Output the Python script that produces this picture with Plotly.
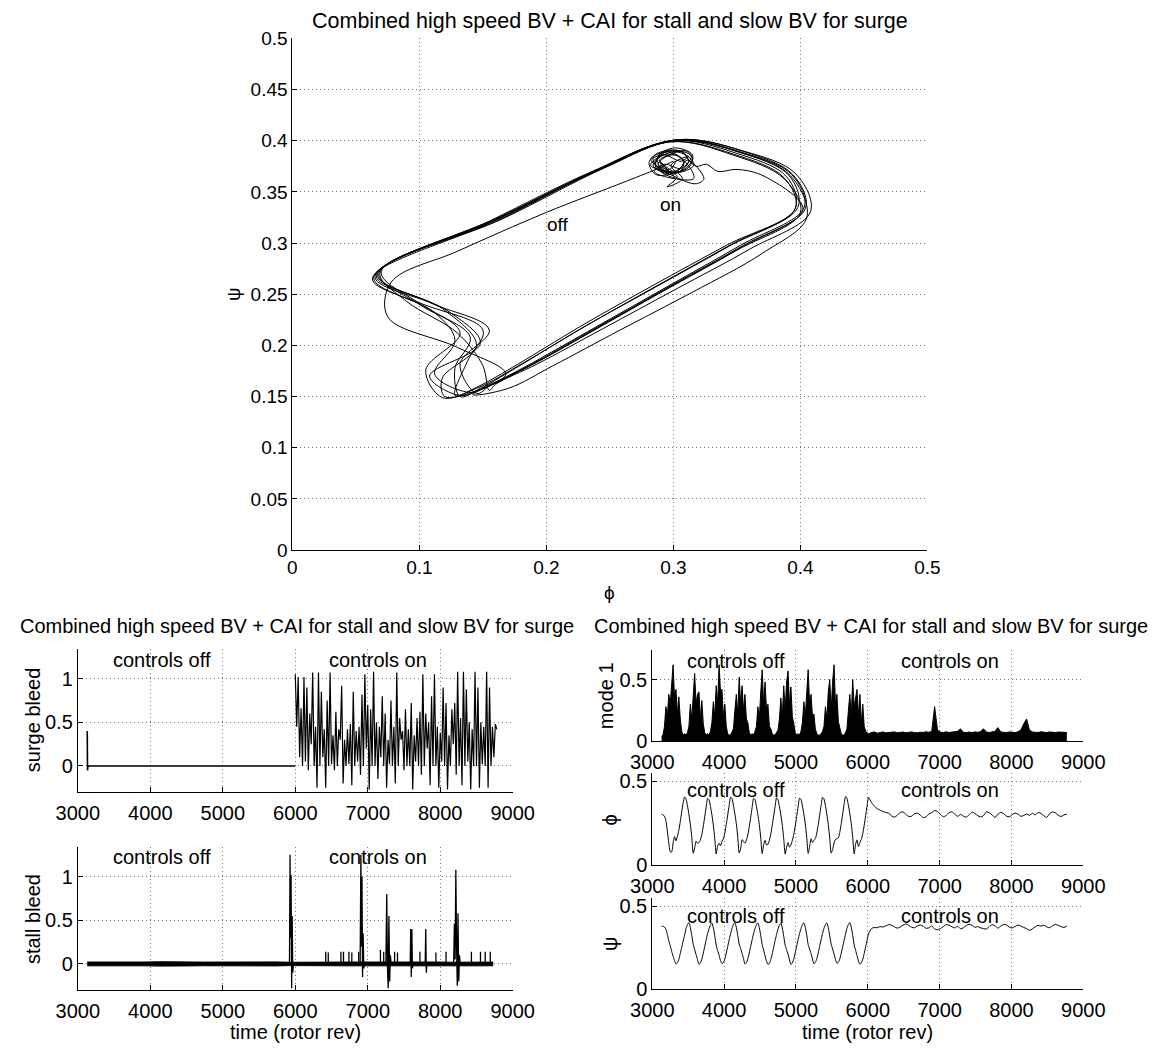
import numpy as np
import plotly.graph_objects as go

# ---------------- data ----------------
# time base (rotor revolutions): 20-rev samples while surging, 40-rev once controls are on
t_off = np.arange(3130, 6011, 20)
t_on = np.arange(6050, 8771, 40)
time = np.concatenate([t_off, t_on])

# flow coefficient phi
phi_start = [0.300, 0.298, 0.290, 0.262, 0.200, 0.130, 0.078, 0.075, 0.130, 0.168]
phi_c1 = [0.142, 0.170, 0.205, 0.258, 0.315, 0.370, 0.405, 0.392, 0.352, 0.302, 0.242, 0.165, 0.068, 0.100, 0.140, 0.128]
phi_c2 = [0.132, 0.148, 0.180, 0.228, 0.286, 0.344, 0.396, 0.387, 0.347, 0.298, 0.236, 0.156, 0.064, 0.112, 0.128, 0.112]
phi_c3 = [0.140, 0.154, 0.190, 0.240, 0.296, 0.354, 0.404, 0.394, 0.354, 0.303, 0.245, 0.166, 0.070, 0.095, 0.150, 0.138]
phi_c4 = [0.128, 0.145, 0.178, 0.226, 0.283, 0.342, 0.396, 0.389, 0.349, 0.299, 0.239, 0.160, 0.066, 0.118, 0.145, 0.118]
phi_c5 = [0.120, 0.146, 0.184, 0.235, 0.292, 0.350, 0.400, 0.387, 0.347, 0.297, 0.236, 0.154, 0.063, 0.104, 0.132, 0.105]
phi_c6 = [0.118, 0.145, 0.182, 0.231, 0.288, 0.346, 0.398, 0.391, 0.351, 0.301, 0.243, 0.164, 0.067, 0.108, 0.155, 0.132]
phi_c7 = [0.145, 0.156, 0.189, 0.239, 0.296, 0.353, 0.403, 0.393, 0.353, 0.302, 0.240, 0.160, 0.069, 0.090, 0.130, 0.150]
phi_c8 = [0.155, 0.160, 0.193, 0.244, 0.302, 0.360, 0.408, 0.396, 0.355, 0.304, 0.244, 0.164, 0.065, 0.122, 0.148, 0.108]
phi_c9 = [0.132, 0.150, 0.186, 0.236, 0.294, 0.352, 0.402]
phi_ctrl = [0.372, 0.350, 0.335, 0.326, 0.318, 0.312,
            0.307, 0.292, 0.284, 0.295, 0.312, 0.315, 0.301, 0.288, 0.290, 0.305,
            0.308, 0.297, 0.281, 0.286, 0.303, 0.311, 0.324, 0.318, 0.301, 0.286,
            0.294, 0.310, 0.316, 0.302, 0.289, 0.301, 0.290, 0.284, 0.298, 0.314,
            0.306, 0.293, 0.285, 0.293, 0.316, 0.311, 0.297, 0.282, 0.301, 0.312,
            0.305, 0.290, 0.286, 0.299, 0.308, 0.302, 0.289, 0.294, 0.303, 0.295,
            0.307, 0.298, 0.312, 0.306, 0.292, 0.282, 0.305, 0.315, 0.310, 0.295,
            0.288, 0.297, 0.302]

# pressure rise coefficient psi
psi_start = [0.380, 0.379, 0.374, 0.360, 0.330, 0.292, 0.262, 0.228, 0.198, 0.172]
psi_c1 = [0.152, 0.158, 0.180, 0.215, 0.252, 0.290, 0.325, 0.366, 0.389, 0.401, 0.372, 0.325, 0.270, 0.240, 0.208, 0.178]
psi_c2 = [0.150, 0.158, 0.181, 0.217, 0.257, 0.297, 0.334, 0.364, 0.387, 0.399, 0.370, 0.322, 0.266, 0.232, 0.205, 0.172]
psi_c3 = [0.154, 0.161, 0.182, 0.217, 0.257, 0.297, 0.334, 0.367, 0.390, 0.401, 0.373, 0.324, 0.272, 0.245, 0.215, 0.185]
psi_c4 = [0.151, 0.159, 0.182, 0.218, 0.258, 0.298, 0.334, 0.365, 0.388, 0.400, 0.371, 0.323, 0.268, 0.236, 0.200, 0.168]
psi_c5 = [0.150, 0.156, 0.178, 0.213, 0.253, 0.293, 0.330, 0.363, 0.386, 0.399, 0.369, 0.319, 0.265, 0.238, 0.212, 0.176]
psi_c6 = [0.149, 0.158, 0.183, 0.219, 0.259, 0.299, 0.335, 0.366, 0.389, 0.400, 0.373, 0.326, 0.269, 0.242, 0.215, 0.182]
psi_c7 = [0.153, 0.161, 0.183, 0.218, 0.258, 0.298, 0.335, 0.367, 0.389, 0.400, 0.371, 0.321, 0.271, 0.243, 0.212, 0.180]
psi_c8 = [0.156, 0.162, 0.182, 0.216, 0.255, 0.294, 0.331, 0.368, 0.390, 0.401, 0.373, 0.325, 0.267, 0.234, 0.202, 0.170]
psi_c9 = [0.151, 0.158, 0.180, 0.215, 0.255, 0.295, 0.333]
psi_ctrl = [0.365, 0.372, 0.370, 0.377, 0.375, 0.381,
            0.389, 0.386, 0.376, 0.368, 0.374, 0.386, 0.393, 0.385, 0.373, 0.370,
            0.381, 0.387, 0.380, 0.367, 0.370, 0.381, 0.363, 0.358, 0.365, 0.377,
            0.389, 0.386, 0.376, 0.369, 0.380, 0.364, 0.370, 0.384, 0.391, 0.385,
            0.373, 0.377, 0.370, 0.365, 0.363, 0.377, 0.389, 0.382, 0.368, 0.380,
            0.390, 0.387, 0.374, 0.369, 0.378, 0.386, 0.381, 0.372, 0.365, 0.355,
            0.363, 0.376, 0.385, 0.380, 0.386, 0.376, 0.370, 0.382, 0.390, 0.385,
            0.377, 0.372, 0.380]

# first circumferential mode amplitude (upper envelope of the trace)
mode_start = [0.04, 0.05, 0.12, 0.28, 0.20, 0.38, 0.30, 0.45, 0.62, 0.35]
mode_c1 = [0.42, 0.22, 0.36, 0.18, 0.08, 0.05, 0.06, 0.05, 0.07, 0.12, 0.30, 0.18, 0.40, 0.55, 0.30, 0.38]
mode_c2 = [0.40, 0.18, 0.33, 0.14, 0.07, 0.05, 0.06, 0.05, 0.08, 0.15, 0.32, 0.20, 0.45, 0.30, 0.62, 0.40]
mode_c3 = [0.42, 0.20, 0.30, 0.12, 0.06, 0.05, 0.05, 0.07, 0.10, 0.25, 0.38, 0.22, 0.52, 0.30, 0.45, 0.25]
mode_c4 = [0.38, 0.18, 0.15, 0.07, 0.05, 0.06, 0.05, 0.08, 0.12, 0.28, 0.18, 0.40, 0.58, 0.30, 0.48, 0.25]
mode_c5 = [0.30, 0.12, 0.10, 0.06, 0.05, 0.05, 0.07, 0.09, 0.18, 0.35, 0.20, 0.45, 0.25, 0.48, 0.57, 0.30]
mode_c6 = [0.44, 0.20, 0.14, 0.07, 0.05, 0.06, 0.05, 0.08, 0.15, 0.32, 0.20, 0.42, 0.58, 0.30, 0.38, 0.20]
mode_c7 = [0.22, 0.10, 0.06, 0.05, 0.05, 0.06, 0.08, 0.12, 0.28, 0.18, 0.40, 0.50, 0.25, 0.48, 0.62, 0.30]
mode_c8 = [0.38, 0.16, 0.12, 0.06, 0.05, 0.05, 0.07, 0.10, 0.25, 0.38, 0.20, 0.50, 0.28, 0.35, 0.42, 0.20]
mode_c9 = [0.38, 0.15, 0.30, 0.12, 0.08, 0.07, 0.06]
mode_ctrl = [0.070, 0.075, 0.065, 0.070, 0.075, 0.068, 0.072, 0.070, 0.075, 0.068,
             0.070, 0.074, 0.069, 0.072, 0.075, 0.070, 0.068, 0.073, 0.070, 0.076,
             0.072, 0.080, 0.280, 0.090, 0.074, 0.070, 0.076, 0.070, 0.072, 0.075,
             0.080, 0.100, 0.072, 0.070, 0.074, 0.070, 0.075, 0.072, 0.078, 0.100,
             0.075, 0.070, 0.074, 0.080, 0.110, 0.075, 0.072, 0.070, 0.075, 0.072,
             0.070, 0.076, 0.090, 0.140, 0.180, 0.090, 0.075, 0.072, 0.070, 0.076,
             0.074, 0.070, 0.075, 0.072, 0.070, 0.074, 0.070, 0.072, 0.070]

# surge bleed valve command
surge_off_t = [3130, 3134, 3140, 6000]
surge_off_v = [0.40, -0.05, 0.00, 0.00]
surge_on_t = np.arange(6000, 8781, 20)
surge_on_v = [1.05, 0.45, 1.02, 0.10, 0.66, 0.00, 1.02, 0.05, 0.90, -0.05,
              0.60, 0.25, 1.07, 0.00, 0.45, -0.25, 1.07, 0.00, 0.85, 0.10,
              0.42, -0.25, 0.75, 0.00, 1.07, 0.02, 0.35, -0.05, 0.62, 0.00,
              0.42, 0.30, 0.92, -0.20, 0.30, 0.00, 0.42, 0.02, 0.48, -0.22,
              0.85, 0.00, 0.40, 0.05, 0.45, -0.10, 0.82, 0.00, 1.05, 0.20,
              0.70, -0.27, 0.65, 0.00, 1.08, 0.00, 0.50, -0.15, 0.45, 0.10,
              0.80, 0.00, 0.60, -0.25, 0.30, 0.02, 0.75, 0.00, 0.45, -0.20,
              1.07, 0.00, 0.55, 0.30, 0.40, -0.05, 0.65, 0.00, 0.42, 0.00,
              0.72, -0.27, 0.35, 0.05, 0.55, 0.00, 0.62, -0.10, 1.05, 0.00,
              0.60, 0.20, 0.50, -0.22, 0.80, 0.00, 1.05, 0.00, 0.45, -0.25,
              0.38, 0.05, 0.90, 0.00, 0.72, -0.27, 0.35, 0.00, 0.65, 0.25,
              0.72, -0.10, 1.08, 0.00, 0.55, -0.22, 1.08, 0.00, 0.88, 0.05,
              0.50, -0.27, 0.42, 0.00, 1.08, 0.00, 0.90, -0.25, 0.50, 0.02,
              0.45, 0.00, 1.08, -0.25, 0.90, 0.00, 0.45, 0.10, 0.48, 0.42]

# stall bleed valve command: small background chatter plus spike clusters
stall_noise_t = np.arange(3130, 8781, 200)
stall_noise_amp = [0.022, 0.020, 0.024, 0.019, 0.022, 0.025, 0.020, 0.023, 0.021, 0.022,
                   0.024, 0.020, 0.022, 0.023, 0.019, 0.022, 0.024, 0.021, 0.022, 0.023,
                   0.020, 0.022, 0.024, 0.021, 0.022, 0.020, 0.023, 0.022, 0.021]
stall_burst_t = [[5920, 5928, 5935, 5942, 5950, 5957, 5965, 5975],
                 [6895, 6905, 6912, 6920, 6928, 6936, 6945, 6955],
                 [7250, 7262, 7272, 7282, 7292, 7302, 7312, 7322],
                 [7585, 7593, 7600, 7608, 7616, 7625],
                 [7792, 7800, 7808, 7816],
                 [8185, 8195, 8205, 8215, 8225, 8235, 8245, 8255, 8265, 8275]]
stall_burst_v = [[0, 1.25, 0.30, 1.02, -0.28, 0.55, -0.10, 0],
                 [0, 1.25, 0.20, 1.00, -0.15, 0.35, -0.05, 0],
                 [0, 0.80, -0.05, -0.28, 0.55, -0.20, 0.10, 0],
                 [0, 0.40, -0.15, 0.40, -0.05, 0],
                 [0, 0.40, -0.10, 0],
                 [0, 0.46, 0.05, 1.08, 0.20, -0.25, 0.58, -0.20, 0.10, 0]]
stall_blip_t = [6420, 6455, 6630, 6665, 6740, 6780, 6875, 7175, 7220, 7370,
                7410, 7720, 7940, 8080, 8430, 8555, 8620, 8690]
stall_blip_v = [0.14, 0.13, 0.14, 0.14, 0.14, 0.13, 0.14, 0.16, 0.14, 0.14,
                0.13, 0.14, 0.13, 0.14, 0.14, 0.14, 0.14, 0.14]

# assemble full series
phi = (phi_start + phi_c1 + phi_c2 + phi_c3 + phi_c4 + phi_c5 + phi_c6 + phi_c7 + phi_c8
       + phi_c9 + phi_ctrl)
psi = (psi_start + psi_c1 + psi_c2 + psi_c3 + psi_c4 + psi_c5 + psi_c6 + psi_c7 + psi_c8
       + psi_c9 + psi_ctrl)
mode1 = (mode_start + mode_c1 + mode_c2 + mode_c3 + mode_c4 + mode_c5 + mode_c6 + mode_c7
         + mode_c8 + mode_c9 + mode_ctrl)

# ---------------- figure ----------------
W, H = 1165, 1055
FONT = "Liberation Sans, Arial, Helvetica, sans-serif"
FS_MAIN = 19
FS = 20
BLACK = "#000000"
GRID = "#7a7a7a"
GRID_DASH = "1px,3px"


def px_x(p):
    return p / W


def px_y(p):
    return 1 - p / H


fig = go.Figure()

# phase portrait
fig.add_trace(go.Scatter(x=phi, y=psi, mode="lines", xaxis="x", yaxis="y",
                         line=dict(color=BLACK, width=1, shape="spline", smoothing=1.0),
                         showlegend=False, hoverinfo="skip"))

# surge bleed
fig.add_trace(go.Scatter(x=surge_off_t, y=surge_off_v, mode="lines", xaxis="x2", yaxis="y2",
                         line=dict(color=BLACK, width=1.6), showlegend=False))
fig.add_trace(go.Scatter(x=surge_on_t, y=surge_on_v, mode="lines", xaxis="x2", yaxis="y2",
                         line=dict(color=BLACK, width=1.2), showlegend=False))

# stall bleed: chatter band
lo = [-a for a in stall_noise_amp]
hi = list(stall_noise_amp)
fig.add_trace(go.Scatter(x=stall_noise_t, y=lo, mode="lines", xaxis="x3", yaxis="y3",
                         line=dict(color=BLACK, width=1), showlegend=False))
fig.add_trace(go.Scatter(x=stall_noise_t, y=hi, mode="lines", xaxis="x3", yaxis="y3",
                         fill="tonexty", fillcolor=BLACK,
                         line=dict(color=BLACK, width=1), showlegend=False))
# stall bleed: bursts and blips
bx, by = [], []
for ts, vs in zip(stall_burst_t, stall_burst_v):
    bx += ts + [None]
    by += vs + [None]
for tb, vb in zip(stall_blip_t, stall_blip_v):
    bx += [tb, tb, None]
    by += [0, vb, None]
fig.add_trace(go.Scatter(x=bx, y=by, mode="lines", xaxis="x3", yaxis="y3",
                         line=dict(color=BLACK, width=1.3), showlegend=False))

# mode 1
fig.add_trace(go.Scatter(x=time, y=mode1, mode="lines", xaxis="x4", yaxis="y4",
                         fill="tozeroy", fillcolor=BLACK,
                         line=dict(color=BLACK, width=1), showlegend=False))
# phi(t)
fig.add_trace(go.Scatter(x=time, y=phi, mode="lines", xaxis="x5", yaxis="y5",
                         line=dict(color=BLACK, width=1, shape="spline", smoothing=0.6),
                         showlegend=False))
# psi(t)
fig.add_trace(go.Scatter(x=time, y=psi, mode="lines", xaxis="x6", yaxis="y6",
                         line=dict(color=BLACK, width=1, shape="spline", smoothing=0.6),
                         showlegend=False))


def axis_style(size):
    return dict(showline=True, linecolor=BLACK, linewidth=1, ticks="inside", ticklen=5,
                tickcolor=BLACK, showgrid=True, gridcolor=GRID, griddash=GRID_DASH,
                gridwidth=1, zeroline=False, mirror=False,
                tickfont=dict(family=FONT, size=size, color=BLACK))


# pixel boxes: (left, right, top, bottom)
boxes = {
    "main": (281, 941, 29, 551),
    "surge": (58, 510, 652, 798),
    "stall": (58, 510, 854, 1000),
    "mode": (655, 1103, 653, 746),
    "phi": (655, 1103, 779, 872),
    "psi": (655, 1103, 906, 999),
}


def dom(b):
    l, r, t, bt = b
    return [px_x(l), px_x(r)], [px_y(bt), px_y(t)]


xd, yd = dom(boxes["main"])
layout = dict(
    xaxis=dict(domain=xd, range=[0, 0.5], dtick=0.1, tick0=0, anchor="y", **axis_style(FS_MAIN)),
    yaxis=dict(domain=yd, range=[0, 0.5], dtick=0.05, tick0=0, anchor="x", **axis_style(FS_MAIN)),
)

ts_axes = [("surge", 2, [-0.3, 1.34], [0, 0.5, 1]),
           ("stall", 3, [-0.3, 1.34], [0, 0.5, 1]),
           ("mode", 4, [0, 0.74], [0, 0.5]),
           ("phi", 5, [0, 0.545], [0, 0.5]),
           ("psi", 6, [0, 0.55], [0, 0.5])]
for name, i, yr, yt in ts_axes:
    xd, yd = dom(boxes[name])
    layout[f"xaxis{i}"] = dict(domain=xd, range=[3000, 9000], dtick=1000, tick0=3000,
                               tickformat="d", anchor=f"y{i}", ticklabelstandoff=3,
                               **axis_style(FS))
    layout[f"yaxis{i}"] = dict(domain=yd, range=yr, tickvals=yt, ticktext=[str(v) for v in yt],
                               anchor=f"x{i}", **axis_style(FS))

TITLE = "Combined high speed BV + CAI for stall and slow BV for surge"
anns = []


def paper_text(text, x, y, size=FS, angle=0):
    anns.append(dict(text=text, x=px_x(x), y=px_y(y), xref="paper", yref="paper",
                     showarrow=False, textangle=angle, xanchor="center", yanchor="middle",
                     font=dict(family=FONT, size=size, color=BLACK)))


def data_text(text, x, y, i, size=FS):
    xr = "x" if i == 1 else f"x{i}"
    yr = "y" if i == 1 else f"y{i}"
    anns.append(dict(text=text, x=x, y=y, xref=xr, yref=yr, showarrow=False,
                     xanchor="center", yanchor="middle",
                     font=dict(family=FONT, size=size, color=BLACK)))


# titles
paper_text(TITLE, 611, 11, size=21.5)
paper_text(TITLE, 286, 629)
paper_text(TITLE, 882, 629)
# axis labels
paper_text("ϕ", 611, 594, size=FS_MAIN)
paper_text("ψ", 219, 290, size=FS_MAIN, angle=-90)
paper_text("surge bleed", 11, 724, angle=-90)
paper_text("stall bleed", 11, 928, angle=-90)
paper_text("mode 1", 607, 700, angle=-90)
paper_text("ϕ", 611, 826, angle=-90)
paper_text("ψ", 611, 953, angle=-90)
paper_text("time (rotor rev)", 284, 1043)
paper_text("time (rotor rev)", 879, 1043)
# in-plot labels
data_text("off", 0.209, 0.318, 1, size=FS_MAIN)
data_text("on", 0.298, 0.338, 1, size=FS_MAIN)
for i, yy in [(2, 1.21), (3, 1.22), (4, 0.65), (5, 0.445), (6, 0.44)]:
    data_text("controls off", 4160, yy, i)
    data_text("controls on", 7140, yy, i)

layout.update(width=W, height=H, margin=dict(l=0, r=0, t=0, b=0),
              paper_bgcolor="white", plot_bgcolor="white", showlegend=False,
              annotations=anns, font=dict(family=FONT, size=FS, color=BLACK))
fig.update_layout(**layout)

fig.write_html("out.html")
